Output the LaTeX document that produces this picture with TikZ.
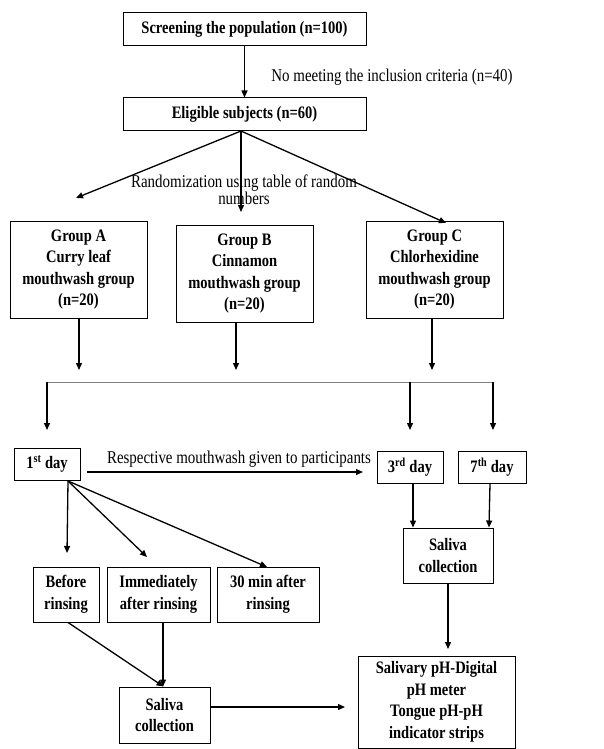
\documentclass[tikz,border=0pt]{standalone}
\usepackage{fontspec}
\setmainfont{Liberation Serif}[FakeStretch=0.83]
\usetikzlibrary{arrows.meta}
\begin{document}
\begin{tikzpicture}[x=1pt,y=-1pt,
  box/.style={draw,line width=1pt,align=center,font=\fontsize{17.5}{21.5}\selectfont\bfseries,inner sep=0pt,minimum width=#1},
  lab/.style={align=center,font=\fontsize{18}{14.5}\selectfont},
  arr/.style={line width=1.3pt,-{Triangle[length=7pt,width=6pt]}},
  thin/.style={line width=0.8pt,draw=gray}]
\useasboundingbox (0,0) rectangle (603,749);
\node[box=243, minimum height=33] (scr) at (244.5,29.5) {Screening the population (n=100)};
\node[box=243, minimum height=33] (eli) at (244.5,114.5) {Eligible subjects (n=60)};
\node[box=137, minimum height=97] (ga) at (78.5,269.5) {Group A\\Curry leaf\\mouthwash group\\(n=20)};
\node[box=137, minimum height=97] (gb) at (244.5,273.5) {Group B\\Cinnamon\\mouthwash group\\(n=20)};
\node[box=137, minimum height=97] (gc) at (434.5,269.5) {Group C\\Chlorhexidine\\mouthwash group\\(n=20)};
\node[box=66, minimum height=32] (d1) at (47,464) {1\textsuperscript{st} day};
\node[box=66, minimum height=32] (d3) at (410,467) {3\textsuperscript{rd} day};
\node[box=68, minimum height=32] (d7) at (492,467) {7\textsuperscript{th} day};
\node[box=90, minimum height=55] (sr) at (448,555.5) {Saliva\\collection};
\node[box=66, minimum height=55] (bef) at (66,594.5) {Before\\rinsing};
\node[box=103, minimum height=55] (imm) at (158.5,594.5) {Immediately\\after rinsing};
\node[box=102, minimum height=55] (thr) at (268,594.5) {30 min after\\rinsing};
\node[box=91, minimum height=56] (sl) at (164.5,715) {Saliva\\collection};
\node[box=157, minimum height=92] (ph) at (436.5,702) {Salivary pH-Digital\\pH meter\\Tongue pH-pH\\indicator strips};

\node[lab] (nm) at (392,77) {No meeting the inclusion criteria (n=40)};
\node[lab] (rnd) at (244,190) {Randomization using table of random\\numbers};
\node[lab] (resp) at (239,459) {Respective mouthwash given to participants};

\coordinate (e0) at (241,131);
\coordinate (eA) at (76,198);
\coordinate (eB) at (241,212);
\coordinate (eC) at (446,223);
\coordinate (aA) at (79,370);
\coordinate (aB) at (236,370);
\coordinate (aC) at (432,370);
\coordinate (hL) at (47,382);
\coordinate (hM) at (410,382);
\coordinate (hR) at (493,382);
\coordinate (tL) at (47,430);
\coordinate (tM) at (410,430);
\coordinate (tR) at (493,430);
\coordinate (r0) at (87,472);
\coordinate (r1) at (363,472);
\coordinate (d1s) at (68,481);
\coordinate (b1) at (67,553);
\coordinate (b2) at (147,557);
\coordinate (b3) at (267,567);
\coordinate (sre) at (448,649);
\coordinate (sle) at (345,707);

\draw[arr] (scr.south) -- (eli.north);
\draw[arr] (e0) -- (eA);
\draw[arr] (e0) -- (eB);
\draw[arr] (e0) -- (eC);
\draw[arr] (ga.south -| aA) -- (aA);
\draw[arr] (gb.south -| aB) -- (aB);
\draw[arr] (gc.south -| aC) -- (aC);
\draw[thin] (hL) -- (hR);
\draw[arr] (hL) -- (tL);
\draw[arr] (hM) -- (tM);
\draw[arr] (hR) -- (tR);
\draw[arr] (r0) -- (r1);
\draw[arr] (d1s) -- (b1);
\draw[arr] (d1s) -- (b2);
\draw[arr] (d1s) -- (b3);
\draw[arr] ([xshift=3pt]d3.south) -- ([xshift=-35pt]sr.north);
\draw[arr] ([xshift=-2pt]d7.south) -- ([xshift=41pt]sr.north);
\draw[arr] (sr.south) -- (sre);
\draw[arr] ([xshift=2pt]bef.south) -- ([xshift=-1pt]sl.north);
\draw[arr] (imm.south -| 163,0) -- (sl.north -| 163,0);
\draw[arr] (sl.east |- sle) -- (sle);
\end{tikzpicture}
\end{document}
